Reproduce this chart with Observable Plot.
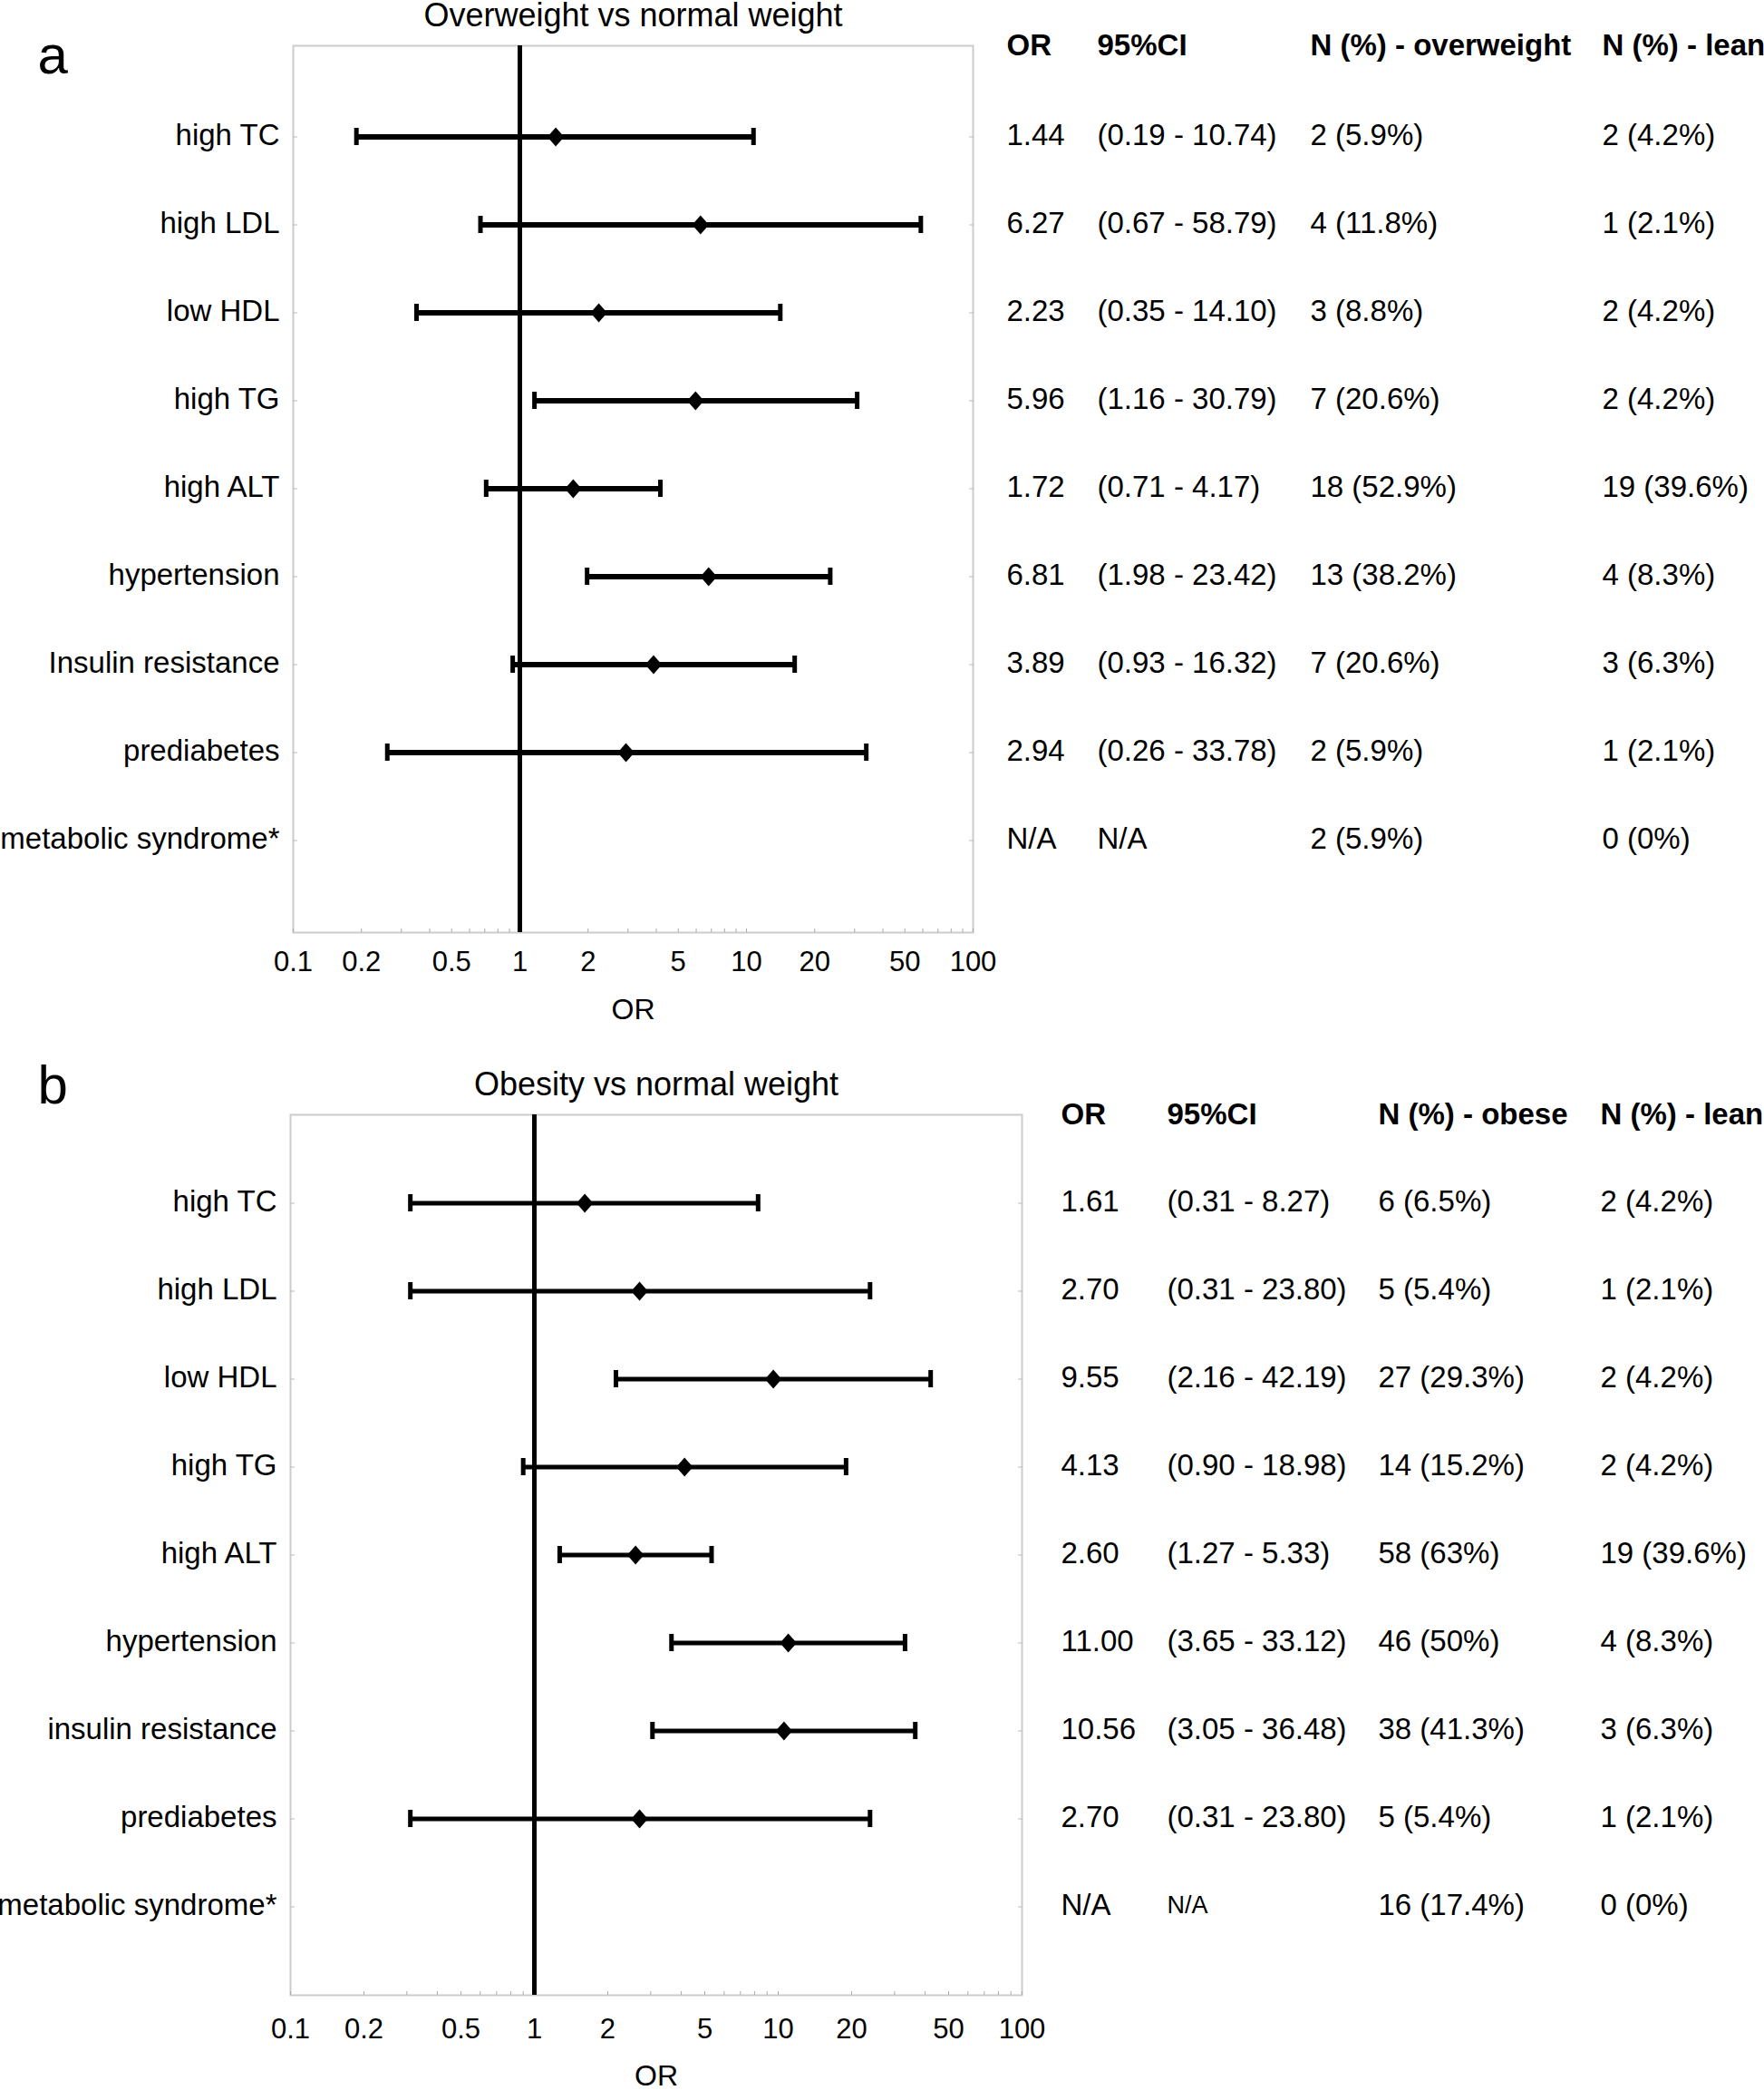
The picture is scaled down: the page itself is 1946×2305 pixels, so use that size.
<!DOCTYPE html>
<html>
<head>
<meta charset="utf-8">
<script src="https://cdn.jsdelivr.net/npm/d3@7"></script>
<script src="https://cdn.jsdelivr.net/npm/@observablehq/plot@0.6"></script>
<style>
  html, body { margin: 0; padding: 0; background: #fff; }
  body { width: 1946px; height: 2305px; overflow: hidden; }
  svg { display: block; }
</style>
</head>
<body>
<div id="chart"></div>
<script>
// ---------- Panel a: Overweight vs normal weight ----------
const categoriesA = ["high TC", "high LDL", "low HDL", "high TG", "high ALT", "hypertension", "Insulin resistance", "prediabetes", "metabolic syndrome*"];
const orA = [1.44, 6.27, 2.23, 5.96, 1.72, 6.81, 3.89, 2.94, null];
const loA = [0.19, 0.67, 0.35, 1.16, 0.71, 1.98, 0.93, 0.26, null];
const hiA = [10.74, 58.79, 14.10, 30.79, 4.17, 23.42, 16.32, 33.78, null];
const nOverweight = [2, 4, 3, 7, 18, 13, 7, 2, 2];
const pctOverweight = [5.9, 11.8, 8.8, 20.6, 52.9, 38.2, 20.6, 5.9, 5.9];
const nLeanA = [2, 1, 2, 2, 19, 4, 3, 1, 0];
const pctLeanA = [4.2, 2.1, 4.2, 4.2, 39.6, 8.3, 6.3, 2.1, 0];
const headersA = ["OR", "95%CI", "N (%) - overweight", "N (%) - lean"];

// ---------- Panel b: Obesity vs normal weight ----------
const categoriesB = ["high TC", "high LDL", "low HDL", "high TG", "high ALT", "hypertension", "insulin resistance", "prediabetes", "metabolic syndrome*"];
const orB = [1.61, 2.70, 9.55, 4.13, 2.60, 11.00, 10.56, 2.70, null];
const loB = [0.31, 0.31, 2.16, 0.90, 1.27, 3.65, 3.05, 0.31, null];
const hiB = [8.27, 23.80, 42.19, 18.98, 5.33, 33.12, 36.48, 23.80, null];
const nObese = [6, 5, 27, 14, 58, 46, 38, 5, 16];
const pctObese = [6.5, 5.4, 29.3, 15.2, 63, 50, 41.3, 5.4, 17.4];
const nLeanB = [2, 1, 2, 2, 19, 4, 3, 1, 0];
const pctLeanB = [4.2, 2.1, 4.2, 4.2, 39.6, 8.3, 6.3, 2.1, 0];
const headersB = ["OR", "95%CI", "N (%) - obese", "N (%) - lean"];

// ---------- Axis ticks ----------
const xTickLabels = [0.1, 0.2, 0.5, 1, 2, 5, 10, 20, 50, 100];
const xMinorTicks = [0.1, 0.2, 0.3, 0.4, 0.5, 0.6, 0.7, 0.8, 0.9, 1, 2, 3, 4, 5, 6, 7, 8, 9, 10, 20, 30, 40, 50, 60, 70, 80, 90, 100];

const FONT = "'Liberation Sans', Arial, Helvetica, sans-serif";

// diamond marker, slightly taller than wide
const diamond = {
  draw(ctx, size) {
    const r = Math.sqrt(size / Math.PI);
    ctx.moveTo(0, -r);
    ctx.lineTo(r * 0.88, 0);
    ctx.lineTo(0, r);
    ctx.lineTo(-r * 0.88, 0);
    ctx.closePath();
  }
};

function panel(cfg) {
  const rows = cfg.cats.map((cat, i) => ({
    cat, or: cfg.or[i], lo: cfg.lo[i], hi: cfg.hi[i],
    ng: cfg.ng[i], pg: cfg.pg[i], nl: cfg.nl[i], pl: cfg.pl[i]
  }));
  const est = rows.filter(d => d.or != null);
  const f2 = v => v.toFixed(2);
  const colText = [
    d => d.or == null ? "N/A" : f2(d.or),
    d => d.lo == null ? "N/A" : `(${f2(d.lo)} - ${f2(d.hi)})`,
    d => `${d.ng} (${d.pg}%)`,
    d => `${d.nl} (${d.pl}%)`
  ];
  const colSize = [
    () => 33,
    d => (d.lo == null && cfg.smallNA) ? 27 : 33,
    () => 33,
    () => 33
  ];
  const tableMarks = [];
  cfg.headers.forEach((h, j) => {
    tableMarks.push(Plot.text([h], {
      text: d => d, frameAnchor: "top-right", dx: cfg.colDx[j], textAnchor: "start", lineAnchor: "middle",
      fontSize: 33, fontWeight: "bold", fill: "black"
    }));
    tableMarks.push(Plot.text(rows, {
      y: "cat", text: colText[j], frameAnchor: "right", dx: cfg.colDx[j], dy: -2, textAnchor: "start", lineAnchor: "middle",
      fontSize: colSize[j], fill: "black"
    }));
  });

  return Plot.plot({
    width: 1946,
    height: cfg.height,
    marginLeft: cfg.left,
    marginRight: 1946 - cfg.right,
    marginTop: cfg.top,
    marginBottom: cfg.height - cfg.bottom,
    style: { fontFamily: FONT, background: "white", color: "black", overflow: "visible" },
    x: { type: "log", domain: [0.1, 100], label: null },
    y: { type: "band", domain: cfg.cats, paddingInner: 0.8, paddingOuter: 0.9, label: null },
    marks: [
      Plot.frame({ stroke: "#cccccc", strokeWidth: 2 }),
      // inward grey ticks
      Plot.axisX({ anchor: "bottom", ticks: xMinorTicks, tickSize: -4, tickFormat: () => "", stroke: "#aaaaaa", label: null }),
      Plot.axisY({ anchor: "left", tickSize: -5, tickFormat: () => "", stroke: "#bbbbbb", label: null }),
      Plot.axisY({ anchor: "right", tickSize: -5, tickFormat: () => "", stroke: "#bbbbbb", label: null }),
      // x tick labels
      Plot.text(xTickLabels, { x: d => d, text: d => String(d), frameAnchor: "bottom", dy: cfg.tickDy, lineAnchor: "middle", fontSize: 31, fill: "black" }),
      // y labels
      Plot.axisY({ anchor: "left", tickSize: 0, tickPadding: 15, fontSize: 33, label: null, fill: "black", dy: -2 }),
      // reference line at OR = 1
      Plot.ruleX([1], { stroke: "black", strokeWidth: 5 }),
      // confidence intervals
      Plot.ruleY(est, { y: "cat", x1: "lo", x2: "hi", stroke: "black", strokeWidth: cfg.lineW }),
      Plot.tickX(est, { x: "lo", y: "cat", stroke: "black", strokeWidth: 5 }),
      Plot.tickX(est, { x: "hi", y: "cat", stroke: "black", strokeWidth: 5 }),
      Plot.dot(est, { x: "or", y: "cat", symbol: diamond, r: 10.5, fill: "black", stroke: "none" }),
      // title, panel letter, axis label
      Plot.text([cfg.title], { text: d => d, frameAnchor: "top", dy: cfg.titleDy, lineAnchor: "middle", fontSize: 36, fill: "black" }),
      Plot.text([cfg.letter], { text: d => d, frameAnchor: "top-left", dx: 41 - cfg.left, dy: cfg.letterDy, textAnchor: "start", lineAnchor: "middle", fontSize: 60, fill: "black" }),
      Plot.text(["OR"], { text: d => d, frameAnchor: "bottom", dy: cfg.orDy, lineAnchor: "middle", fontSize: 32, fill: "black" }),
      ...tableMarks
    ]
  });
}

const chart = document.getElementById("chart");
chart.append(panel({
  cats: categoriesA, or: orA, lo: loA, hi: hiA,
  ng: nOverweight, pg: pctOverweight, nl: nLeanA, pl: pctLeanA,
  headers: headersA, colDx: [37, 137, 372, 694], smallNA: false,
  height: 1150, left: 323, right: 1073, top: 50, bottom: 1028,
  title: "Overweight vs normal weight", titleDy: -33,
  letter: "a", letterDy: 11, orDy: 85, tickDy: 33, lineW: 6
}));
chart.append(panel({
  cats: categoriesB, or: orB, lo: loB, hi: hiB,
  ng: nObese, pg: pctObese, nl: nLeanB, pl: pctLeanB,
  headers: headersB, colDx: [43, 160, 393, 638], smallNA: true,
  height: 1155, left: 320, right: 1127, top: 79, bottom: 2200 - 1150,
  title: "Obesity vs normal weight", titleDy: -33,
  letter: "b", letterDy: -32, orDy: 89, tickDy: 38, lineW: 5
}));
</script>
</body>
</html>
